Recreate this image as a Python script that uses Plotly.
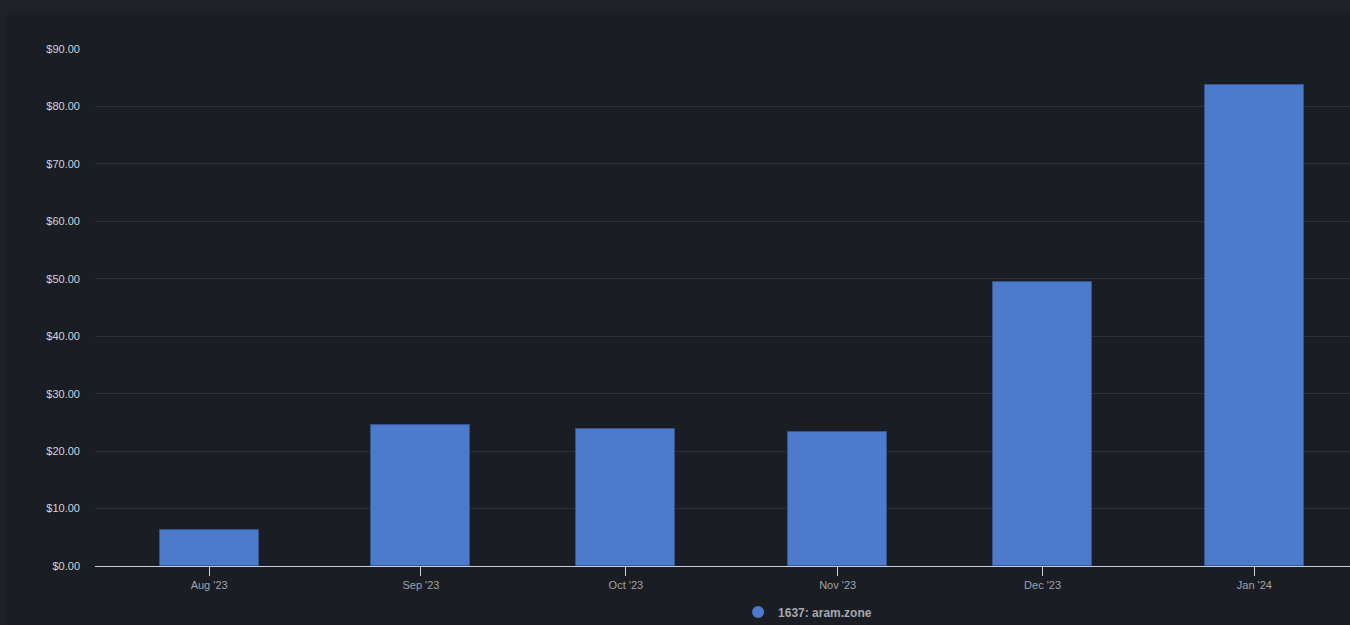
import plotly.graph_objects as go

months = ["2023-08-01", "2023-09-01", "2023-10-01", "2023-11-01", "2023-12-01", "2024-01-01"]
revenue = [6.2, 24.6, 23.9, 23.4, 49.4, 83.8]
series_name = "1637: aram.zone"
y_ticks = [0, 10, 20, 30, 40, 50, 60, 70, 80, 90]
y_tick_labels = ["$0.00", "$10.00", "$20.00", "$30.00", "$40.00", "$50.00",
                 "$60.00", "$70.00", "$80.00", "$90.00"]

BAR = "#4c7bcb"
FONT = "Liberation Sans, Helvetica, Arial, sans-serif"

fig = go.Figure()
fig.add_trace(go.Bar(
    x=months, y=revenue, name=series_name,
    marker=dict(color=BAR, line=dict(color="#34558f", width=1)),
    width=14.5 * 86400000,
    showlegend=False,
))
fig.add_trace(go.Scatter(
    x=[None], y=[None], mode="markers", name=series_name,
    marker=dict(symbol="circle", size=12, color=BAR),
    showlegend=True,
))

fig.update_layout(
    width=1350, height=625,
    paper_bgcolor="#1e2128",
    plot_bgcolor="rgba(0,0,0,0)",
    margin=dict(l=95, r=0, t=49, b=59, autoexpand=False),
    font=dict(family=FONT, size=11, color="#c8ccd4"),
    showlegend=True,
    legend=dict(
        orientation="h", x=0.5124, xanchor="left", y=-0.089, yanchor="middle",
        font=dict(size=12, color="#a4a8b0", family=FONT, weight="bold"),
        bgcolor="rgba(0,0,0,0)", itemwidth=30,
    ),
    bargap=0,
    shapes=[dict(
        type="rect", xref="paper", yref="paper", layer="below",
        x0=(7 - 95) / 1255, x1=1.01, y0=-59 / 517 - 0.01, y1=(566 - 15) / 517,
        fillcolor="#1a1d23", line=dict(width=0),
    )],
)

fig.update_xaxes(
    type="date",
    range=["2023-07-15 07:00", "2024-01-15"],
    tickvals=months,
    tickformat="%b '%y",
    ticks="outside", ticklen=9, tickcolor="#c8d0e0", tickwidth=1,
    showline=True, linecolor="#c8d0e0", linewidth=1,
    showgrid=False, zeroline=False,
    tickfont=dict(size=11, color="#a0a4ac", family=FONT),
)
fig.update_yaxes(
    range=[0, 90],
    tickvals=y_ticks,
    ticktext=y_tick_labels,
    showgrid=True, gridcolor="#2c3038", gridwidth=1,
    zeroline=False, showline=False,
    ticklabelstandoff=14,
    tickfont=dict(size=11, color="#d0d4dc", family=FONT),
)

fig.write_html(
    "out.html",
    config={"displayModeBar": False},
    post_script="document.body.style.margin='0';document.body.style.background='#1e2128';document.body.style.overflow='hidden';",
)
